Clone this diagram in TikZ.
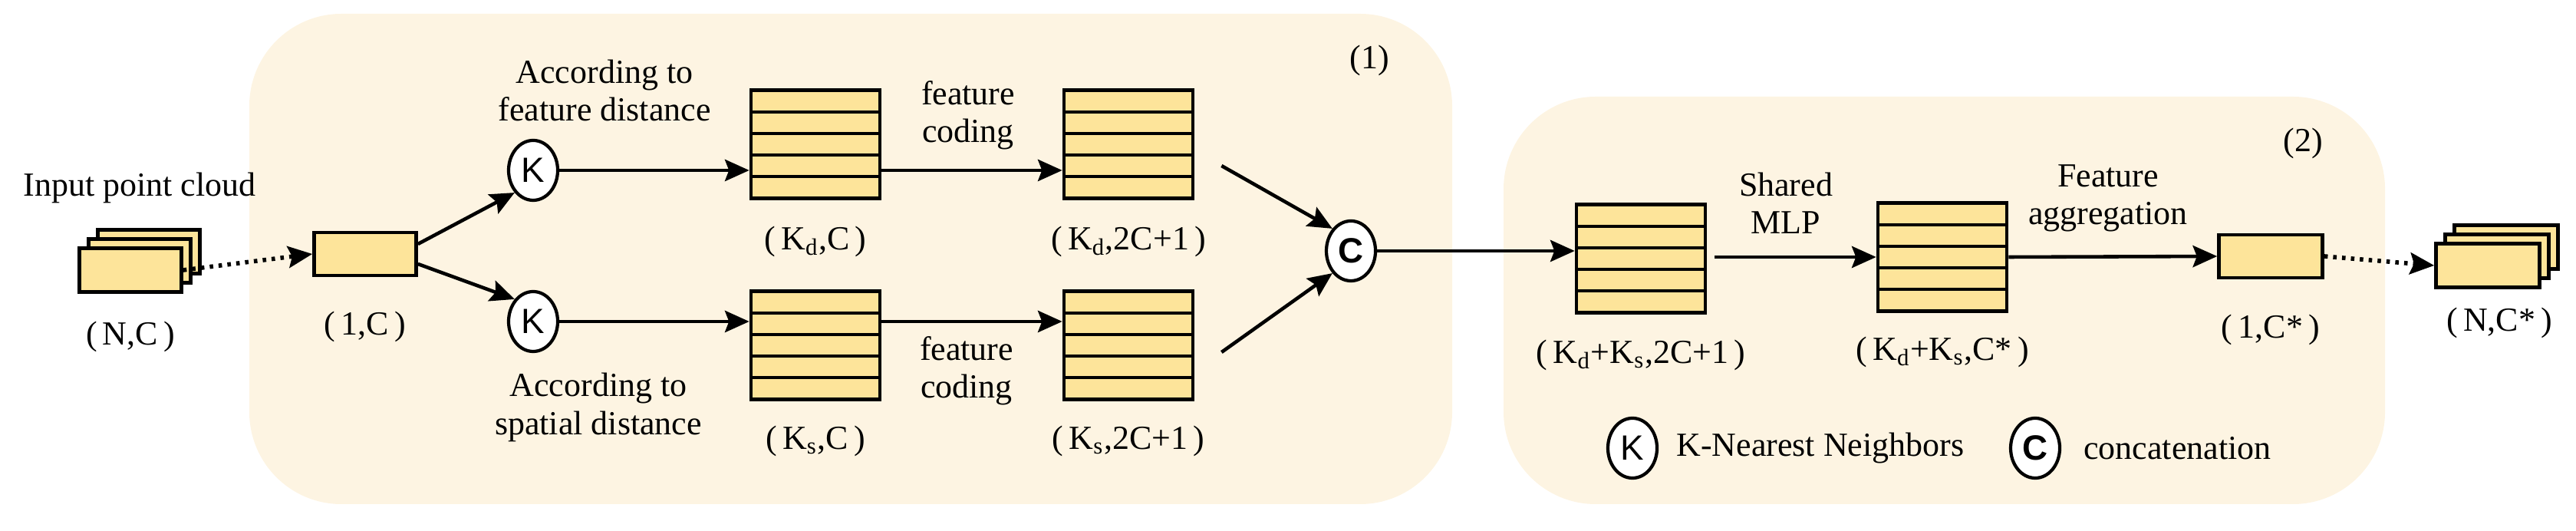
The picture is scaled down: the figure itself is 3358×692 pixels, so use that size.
\documentclass[tikz,border=0pt]{standalone}
\usepackage{fontspec}
\setmainfont{Liberation Serif}
\setsansfont{Liberation Sans}
\usetikzlibrary{arrows.meta, calc}

\definecolor{panelfill}{HTML}{FDF4E2}
\definecolor{cellfill}{HTML}{FDE49A}

\tikzset{
  lbl/.style={font=\fontsize{12.5}{14}\selectfont, align=center},
  cell/.style={draw, line width=1.3pt, fill=cellfill, inner sep=0pt},
  mat/.style={cell, minimum width=1.68cm, minimum height=1.41cm,
    path picture={
      \foreach \i in {1,...,4}
        \draw[line width=1.2pt]
          ($(path picture bounding box.north west)!\i/5!(path picture bounding box.south west)$) --
          ($(path picture bounding box.north east)!\i/5!(path picture bounding box.south east)$);
    }},
  op/.style={draw, line width=1.2pt, fill=white, ellipse, minimum width=0.64cm, minimum height=0.78cm,
    inner sep=0pt, font=\sffamily\fontsize{13}{14}\selectfont},
  arr/.style={line width=1.3pt, -{Stealth[length=9pt,width=8pt,inset=1.5pt]}},
  dotarr/.style={arr, dotted, line width=1.6pt}
}
\usetikzlibrary{shapes.geometric}

\begin{document}
\begin{tikzpicture}[x=0.01cm, y=-0.01cm]
    \useasboundingbox (0,0) rectangle (3358,692);

    % draw panels
    \fill[panelfill, rounded corners=1.2cm] (325,18) rectangle (1893,657);
    \fill[panelfill, rounded corners=1.2cm] (1960,126) rectangle (3109,657);
    \node[lbl] at (1785,79) {(1)};
    \node[lbl] at (3002,187) {(2)};

    % draw input stack
    \foreach \d in {2,1,0}
      \node[cell, minimum width=1.33cm, minimum height=0.57cm] (in\d) at (170+12*\d,352-12*\d) {};
    \node[lbl] at (182,245) {Input point cloud};
    \node[lbl] at (170,439) {(\,N,C\,)};

    % draw single feature box
    \node[cell, minimum width=1.33cm, minimum height=0.56cm] (pt) at (476,331) {};
    \node[lbl] at (476,426) {(\,1,C\,)};

    % draw knn branches
    \node[op] (kd) at (695,222) {K};
    \node[op] (ks) at (695,419) {K};
    \node[lbl] at (788,118) {According to\\feature distance};
    \node[lbl] at (780,531) {According to\\spatial distance};

    \node[mat] (md) at (1063,188) {};
    \node[mat] (ms) at (1063,450) {};
    \node[lbl] at (1063,315) {(\,K\textsubscript{d},C\,)};
    \node[lbl] at (1063,575) {(\,K\textsubscript{s},C\,)};

    \node[mat] (ed) at (1471,188) {};
    \node[mat] (es) at (1471,450) {};
    \node[lbl] at (1471,315) {(\,K\textsubscript{d},2C+1\,)};
    \node[lbl] at (1471,575) {(\,K\textsubscript{s},2C+1\,)};
    \node[lbl] at (1262,150) {feature\\coding};
    \node[lbl] at (1260,483) {feature\\coding};

    % draw concatenation
    \node[op, font=\sffamily\bfseries\fontsize{13}{14}\selectfont] (cat) at (1761,327) {C};

    % draw second stage
    \node[mat] (mc) at (2139,337) {};
    \node[mat] (mm) at (2532,335) {};
    \node[cell, minimum width=1.35cm, minimum height=0.56cm] (agg) at (2960,334) {};
    \node[lbl] at (2139,463) {(\,K\textsubscript{d}+K\textsubscript{s},2C+1\,)};
    \node[lbl] at (2532,459) {(\,K\textsubscript{d}+K\textsubscript{s},C*\,)};
    \node[lbl] at (2960,430) {(\,1,C*\,)};
    \node[lbl] at (2328,265) {Shared\\MLP};
    \node[lbl] at (2748,258) {Feature\\aggregation};

    % draw output stack
    \foreach \d in {2,1,0}
      \node[cell, minimum width=1.35cm, minimum height=0.57cm] (out\d) at (3243+12*\d,346-12*\d) {};
    \node[lbl] at (3258,421) {(\,N,C*\,)};

    % draw legend
    \node[op] (lk) at (2128,584) {K};
    \node[lbl, anchor=west] at (2173,584) {K-Nearest Neighbors};
    \node[op, font=\sffamily\bfseries\fontsize{13}{14}\selectfont] (lc) at (2653,584) {C};
    \node[lbl, anchor=west] at (2704,584) {concatenation};

    % draw arrows
    \draw[dotarr] (in0.east) -- (pt.west);
    \draw[arr] ([yshift=0.13cm]pt.east) -- (kd.south west);
    \draw[arr] ([yshift=-0.13cm]pt.east) -- (ks.north west);
    \draw[arr] (kd) -- (md.west |- kd);
    \draw[arr] (ks) -- (ms.west |- ks);
    \draw[arr] (md.east |- kd) -- (ed.west |- kd);
    \draw[arr] (ms.east |- ks) -- (es.west |- ks);
    \draw[arr] ([xshift=0.35cm,yshift=-0.28cm]ed.east) -- (cat.north west);
    \draw[arr] ([xshift=0.35cm,yshift=-0.09cm]es.east) -- (cat.south west);
    \draw[arr] (cat) -- (mc.west |- cat);
    \draw[arr] ([xshift=0.1cm]mc.east |- mm) -- (mm.west);
    \draw[arr] (mm.east) -- (agg.west);
    \draw[dotarr] (agg.east) -- (out0.west);
\end{tikzpicture}
\end{document}
